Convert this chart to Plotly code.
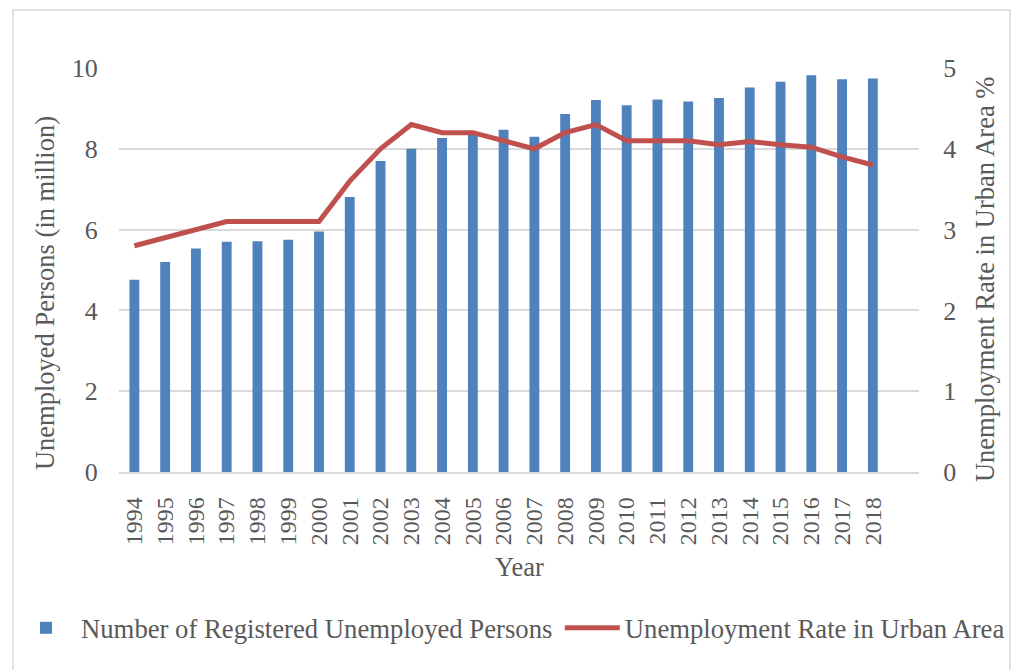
import plotly.graph_objects as go

years = [str(y) for y in range(1994, 2019)]
unemployed_million = [4.76, 5.20, 5.53, 5.70, 5.71, 5.75, 5.95, 6.81, 7.70, 8.00,
                      8.27, 8.39, 8.47, 8.30, 8.86, 9.21, 9.08, 9.22, 9.17, 9.26,
                      9.52, 9.66, 9.82, 9.72, 9.74]
urban_rate = [2.8, 2.9, 3.0, 3.1, 3.1, 3.1, 3.1, 3.6, 4.0, 4.3,
              4.2, 4.2, 4.1, 4.0, 4.2, 4.3, 4.1, 4.1, 4.1, 4.05,
              4.09, 4.05, 4.02, 3.9, 3.8]

FONT = "Liberation Serif"
GREY = "#595959"
GRID = "#d9d9d9"

fig = go.Figure()
fig.add_trace(go.Bar(
    x=years, y=unemployed_million, name="Number of Registered Unemployed Persons",
    marker=dict(color="#4f81bd", line=dict(width=0)), width=0.32, yaxis="y",
    legend="legend"))
fig.add_trace(go.Scatter(
    x=years, y=urban_rate, name="Unemployment Rate in Urban Area", mode="lines",
    line=dict(color="#c0504d", width=5), yaxis="y2", legend="legend2"))

tf = dict(family=FONT, color=GREY, size=26)
lf = dict(family=FONT, size=26.7, color=GREY)

fig.update_layout(
    width=1014, height=670,
    margin=dict(l=119, r=95, t=68, b=198, autoexpand=False),
    paper_bgcolor="white", plot_bgcolor="white",
    font=dict(family=FONT, color=GREY, size=25),
    showlegend=True,
    legend=dict(orientation="h", x=-0.135, xanchor="left",
                y=-0.386, yanchor="middle", font=lf, itemwidth=60,
                bgcolor="rgba(0,0,0,0)"),
    legend2=dict(orientation="h", x=0.551, xanchor="left",
                 y=-0.386, yanchor="middle", font=lf, itemwidth=55,
                 bgcolor="rgba(0,0,0,0)"),
    xaxis=dict(type="category", range=[-0.5, 25.5], tickangle=-90, automargin=False,
               tickfont=dict(family=FONT, color=GREY, size=24), showgrid=False, showline=True,
               linecolor=GRID, linewidth=1.5, ticks="outside", ticklen=14,
               tickcolor="rgba(0,0,0,0)"),
    yaxis=dict(range=[0, 10], dtick=2, showgrid=True, gridcolor=GRID, gridwidth=1.5,
               automargin=False, tickfont=tf,
               zeroline=False, ticks="outside", ticklen=15, tickcolor="rgba(0,0,0,0)"),
    yaxis2=dict(range=[0, 5], dtick=1, overlaying="y", side="right", showgrid=False,
                automargin=False, tickfont=tf,
                zeroline=False, ticks="outside", ticklen=18, tickcolor="rgba(0,0,0,0)"),
    bargap=0.68,
    annotations=[
        dict(text="Unemployed Persons (in million)", xref="paper", yref="paper",
             x=-0.0925, y=0.443, xanchor="center", yanchor="middle",
             textangle=-90, showarrow=False,
             font=dict(family=FONT, size=26.5, color=GREY)),
        dict(text="Unemployment Rate in Urban Area %", xref="paper", yref="paper",
             x=1.0825, y=0.475, xanchor="center", yanchor="middle",
             textangle=-90, showarrow=False,
             font=dict(family=FONT, size=26.5, color=GREY)),
        dict(text="Year", xref="paper", yref="paper", x=0.501, y=-0.235,
             xanchor="center", yanchor="middle",
             showarrow=False, font=dict(family=FONT, size=26.5, color=GREY)),
    ],
    shapes=[dict(type="rect", xref="paper", yref="paper",
                 x0=-0.1325, x1=1.11375, y0=-0.5, y1=1.1436,
                 line=dict(color=GRID, width=1.5), layer="below")],
)

fig.write_html("out.html")
